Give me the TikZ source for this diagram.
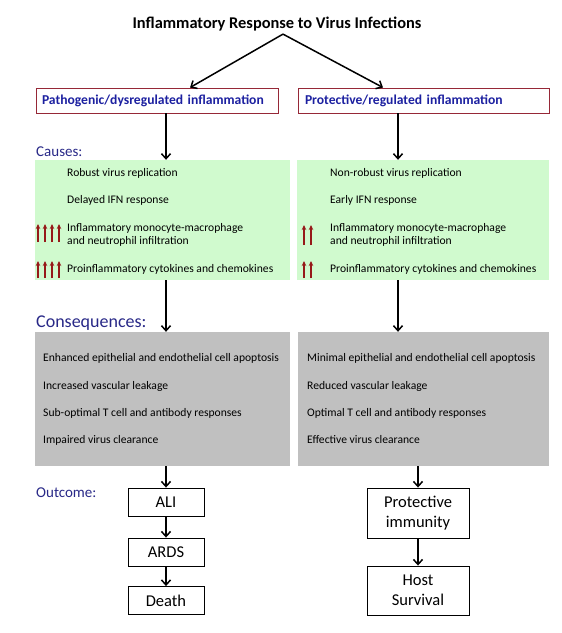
\documentclass[tikz,border=0pt]{standalone}
\usepackage{fontspec}
\setmainfont{Carlito}
\usetikzlibrary{arrows.meta,positioning}
\definecolor{hdblue}{RGB}{28,32,160}
\definecolor{lblblue}{RGB}{40,40,135}
\definecolor{boxred}{RGB}{150,40,55}
\definecolor{causegreen}{RGB}{208,250,206}
\definecolor{consgray}{RGB}{192,192,192}
\definecolor{uparrow}{RGB}{150,25,25}

\begin{document}
\begin{tikzpicture}[x=1pt,y=-1pt,>={Straight Barb[length=5pt,width=9pt]},
  head box/.style={draw=boxred,line width=0.9pt,minimum height=25pt,inner xsep=6pt,font=\fontsize{13.6}{15}\selectfont\bfseries,text=hdblue,align=left},
  item/.style={anchor=base west,inner sep=0pt,font=\fontsize{11.6}{13}\selectfont,align=left},
  sec label/.style={anchor=base west,inner sep=0pt,font=\fontsize{15}{17}\selectfont,text=lblblue},
  out box/.style={draw,line width=0.9pt,minimum width=76pt,font=\fontsize{16.5}{20}\selectfont,align=center},
  flow/.style={->,line width=1.5pt}]
\tikzstyle{cause box} = [fill=causegreen, minimum height=120pt, inner sep=0pt]
\tikzstyle{cons box} = [fill=consgray, minimum height=134pt, inner sep=0pt]
\tikzstyle{up} = [uparrow, line width=1.2pt, -{Stealth[length=5pt,width=4.5pt]}]

\useasboundingbox (0,0) rectangle (562,633);

% title and the two branches
\node[anchor=base, font=\fontsize{16.4}{18}\selectfont\bfseries] (title) at (277,28) {Inflammatory Response to Virus Infections};
\node[head box, text width=230pt] (lpath) at (157,100.5) {Pathogenic/dysregulated inflammation};
\node[head box, text width=237pt, inner xsep=7pt] (rpath) at (423.5,100.5) {Protective/regulated inflammation};
\draw[flow] ([xshift=6pt]title.south) -- ([xshift=33pt]lpath.north);
\draw[flow] ([xshift=6pt]title.south) -- ([xshift=-40.5pt]rpath.north);

% causes
\node[sec label] (causes) at (36,156) {Causes:};
\node[cause box, minimum width=255pt] (lcause) at (162.5,220) {};
\node[cause box, minimum width=252pt] (rcause) at (423,220) {};

\node[item] (lc1) at (67,176) {Robust virus replication};
\node[item] (lc2) at (67,203) {Delayed IFN response};
\node[item] (lc3) at (67,244) {Inflammatory monocyte-macrophage\\and neutrophil infiltration};
\node[item] (lc4) at (67,272) {Proinflammatory cytokines and chemokines};

\node[item] (rc1) at (330,176) {Non-robust virus replication};
\node[item] (rc2) at (330,203) {Early IFN response};
\node[item] (rc3) at (330,244) {Inflammatory monocyte-macrophage\\and neutrophil infiltration};
\node[item] (rc4) at (330,272) {Proinflammatory cytokines and chemokines};

\foreach \x in {38,45,52,59} {
  \draw[up] (\x,242) -- (\x,224);
  \draw[up] (\x,278) -- (\x,261);
}
\foreach \x in {304,311} {
  \draw[up] (\x,245) -- (\x,225);
  \draw[up] (\x,278) -- (\x,261);
}

% consequences
\node[sec label, font=\fontsize{18}{20}\selectfont] (conseq) at (36,327) {Consequences:};
\node[cons box, minimum width=255pt] (lcons) at (162.5,399) {};
\node[cons box, minimum width=251pt] (rcons) at (423.5,399) {};

\node[item] (lq1) at (43,361) {Enhanced epithelial and endothelial cell apoptosis};
\node[item] (lq2) at (43,389) {Increased vascular leakage};
\node[item] (lq3) at (43,416) {Sub-optimal T cell and antibody responses};
\node[item] (lq4) at (43,443) {Impaired virus clearance};

\node[item] (rq1) at (307,361) {Minimal epithelial and endothelial cell apoptosis};
\node[item] (rq2) at (307,389) {Reduced vascular leakage};
\node[item] (rq3) at (307,416) {Optimal T cell and antibody responses};
\node[item] (rq4) at (307,443) {Effective virus clearance};

% outcome
\node[sec label] (outcome) at (36,497) {Outcome:};
\node[out box, minimum height=28pt] (ali) at (166,502) {ALI};
\node[out box, minimum height=28pt] (ards) at (166,552) {ARDS};
\node[out box, minimum height=28pt] (death) at (166,600.5) {Death};
\node[out box, minimum width=102pt, minimum height=50pt] (prot) at (418,513) {Protective\\immunity};
\node[out box, minimum width=102pt, minimum height=49pt] (host) at (418,590.5) {Host\\Survival};

% flow down the columns
\draw[flow] (lpath.south -| ali) -- (lcause.north -| ali);
\draw[flow] (lcause.south -| ali) -- (lcons.north -| ali);
\draw[flow] (lcons.south -| ali) -- (ali);
\draw[flow] (ali) -- (ards);
\draw[flow] (ards) -- (death);
\draw[flow] ([xshift=-25.5pt]rpath.south) -- ([xshift=-25pt]rcause.north);
\draw[flow] ([xshift=-25pt]rcause.south) -- ([xshift=-25.5pt]rcons.north);
\draw[flow] (rcons.south -| prot) -- (prot);
\draw[flow] (prot) -- (host);

\end{tikzpicture}
\end{document}
